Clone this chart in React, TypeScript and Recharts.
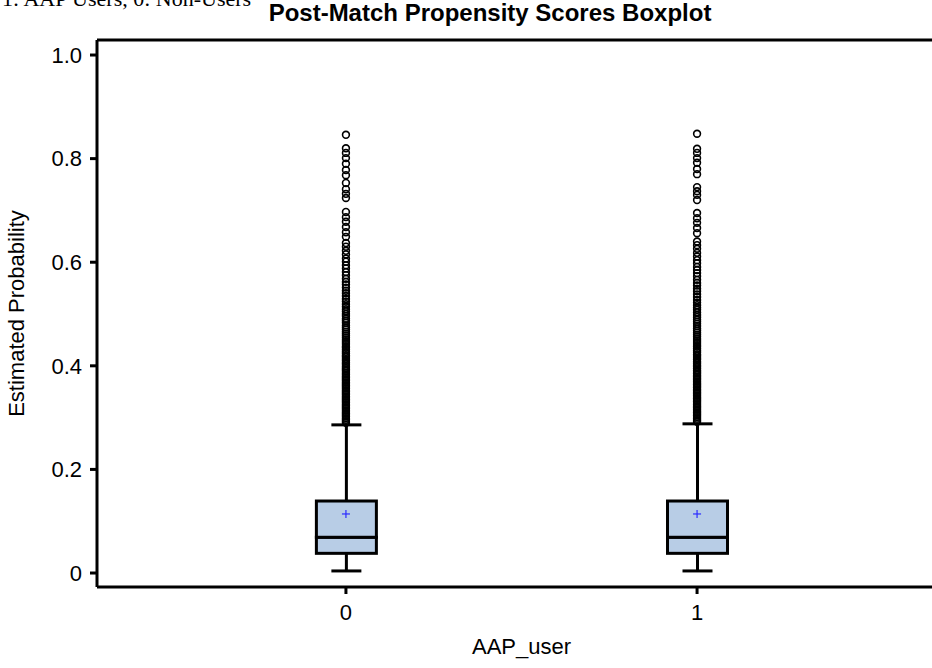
import { ComposedChart, Bar, Scatter, XAxis, YAxis, ReferenceLine } from 'recharts';

// 0 = non-users, 1 = AAP users
const groups = [0, 1];
const whiskerLow = [0.004, 0.004];
const q1 = [0.038, 0.038];
const median = [0.069, 0.069];
const q3 = [0.139, 0.139];
const whiskerHigh = [0.286, 0.288];
const means = [0.114, 0.114];

const outliers0 = [
  0.846, 0.820, 0.811, 0.801, 0.790, 0.778, 0.768, 0.753, 0.741, 0.732, 0.724,
  0.697, 0.687, 0.678, 0.668, 0.658, 0.649, 0.637, 0.630, 0.622, 0.615, 0.607,
  0.601, 0.594, 0.588, 0.581, 0.575, 0.568, 0.562, 0.557, 0.551, 0.545, 0.540,
  0.535, 0.529, 0.524, 0.519, 0.514, 0.509, 0.505, 0.500, 0.496, 0.491, 0.487,
  0.483, 0.478, 0.474, 0.470, 0.466, 0.462, 0.458, 0.454, 0.450, 0.446, 0.442,
  0.438, 0.435, 0.431, 0.427, 0.424, 0.420, 0.417, 0.413, 0.410, 0.406, 0.403,
  0.399, 0.396, 0.393, 0.390, 0.386, 0.383, 0.380, 0.377, 0.374, 0.371, 0.368,
  0.365, 0.362, 0.359, 0.356, 0.353, 0.350, 0.347, 0.344, 0.341, 0.338, 0.335,
  0.332, 0.329, 0.326, 0.323, 0.320, 0.317, 0.314, 0.311, 0.308, 0.305, 0.302,
  0.299, 0.296, 0.293, 0.290,
];
const outliers1 = [
  0.848, 0.819, 0.811, 0.801, 0.792, 0.780, 0.770, 0.745, 0.737, 0.730, 0.720,
  0.695, 0.685, 0.676, 0.666, 0.656, 0.640, 0.633, 0.626, 0.618, 0.611, 0.604,
  0.598, 0.591, 0.585, 0.579, 0.573, 0.566, 0.560, 0.555, 0.549, 0.544, 0.538,
  0.533, 0.527, 0.522, 0.517, 0.512, 0.508, 0.503, 0.498, 0.494, 0.489, 0.485,
  0.481, 0.477, 0.472, 0.468, 0.464, 0.460, 0.456, 0.452, 0.448, 0.444, 0.440,
  0.437, 0.433, 0.429, 0.426, 0.422, 0.419, 0.415, 0.412, 0.408, 0.405, 0.401,
  0.398, 0.395, 0.391, 0.388, 0.385, 0.382, 0.379, 0.376, 0.373, 0.370, 0.367,
  0.364, 0.361, 0.358, 0.355, 0.352, 0.349, 0.346, 0.343, 0.340, 0.337, 0.334,
  0.331, 0.328, 0.325, 0.322, 0.319, 0.316, 0.313, 0.310, 0.307, 0.304, 0.301,
  0.298, 0.295, 0.292,
];

const yTicks = [0, 0.2, 0.4, 0.6, 0.8, 1.0];
const xTicks = [0, 1];

const Y_DOMAIN: [number, number] = [-0.027, 1.029];
const X_DOMAIN: [number, number] = [-0.709, 1.709];
const FONT = '"Liberation Sans", Arial, sans-serif';

const boxData = groups.map((g, i) => ({
  x: g,
  base: whiskerLow[i],
  lowW: q1[i] - whiskerLow[i],
  boxLo: median[i] - q1[i],
  boxHi: q3[i] - median[i],
  highW: whiskerHigh[i] - q3[i],
}));

const meanData = groups.map((g, i) => ({ x: g, y: means[i] }));
const outlierData = [
  ...outliers0.map((v) => ({ x: groups[0], y: v })),
  ...outliers1.map((v) => ({ x: groups[1], y: v })),
];

const LowWhisker = (p: any) => {
  const cx = p.x + p.width / 2;
  const yb = p.y + p.height;
  return (
    <g>
      <line x1={cx} x2={cx} y1={p.y} y2={yb} stroke="#000" strokeWidth={3} />
      <line x1={cx - 15} x2={cx + 15} y1={yb} y2={yb} stroke="#000" strokeWidth={3} />
    </g>
  );
};

const HighWhisker = (p: any) => {
  const cx = p.x + p.width / 2;
  return (
    <g>
      <line x1={cx} x2={cx} y1={p.y} y2={p.y + p.height} stroke="#000" strokeWidth={3} />
      <line x1={cx - 15} x2={cx + 15} y1={p.y} y2={p.y} stroke="#000" strokeWidth={3} />
    </g>
  );
};

const BoxPart = (p: any) => (
  <rect x={p.x} y={p.y} width={p.width} height={p.height} fill="#b8cde6" stroke="#000" strokeWidth={3} />
);

const MeanMark = (p: any) => (
  <g stroke="#2b2bff" strokeWidth={1.2}>
    <line x1={p.cx - 4} x2={p.cx + 4} y1={p.cy} y2={p.cy} />
    <line x1={p.cx} x2={p.cx} y1={p.cy - 4} y2={p.cy + 4} />
  </g>
);

const Outlier = (p: any) => (
  <circle cx={p.cx} cy={p.cy} r={3.4} fill="none" stroke="#000" strokeWidth={1.6} />
);

export default function App() {
  return (
    <div style={{ width: 932, height: 668, overflow: 'hidden', position: 'relative', background: '#fff' }}>
      <style>{'html,body{margin:0;padding:0;overflow:hidden;}'}</style>
      {/* caption line above the chart, cut off by the page top like in the source */}
      <div
        style={{
          position: 'absolute', top: -12, left: 2, whiteSpace: 'nowrap',
          fontFamily: '"Liberation Serif", serif', fontSize: 22, lineHeight: '22px',
        }}
      >
        1: AAP Users, 0: Non-Users
      </div>
      <div
        style={{
          position: 'absolute', top: 1, left: 0, width: 980, textAlign: 'center',
          fontFamily: FONT, fontWeight: 'bold', fontSize: 24, lineHeight: '24px', zIndex: 1,
        }}
      >
        Post-Match Propensity Scores Boxplot
      </div>
      <ComposedChart
        width={960}
        height={668}
        data={boxData}
        margin={{ top: 40, right: 14, bottom: 0, left: 0 }}
        style={{ fontFamily: FONT }}
      >
        <XAxis
          dataKey="x"
          type="number"
          domain={X_DOMAIN}
          allowDataOverflow
          ticks={xTicks}
          height={81}
          tickSize={7}
          tickMargin={10}
          tick={{ fill: '#000', fontSize: 22 }}
          tickLine={{ stroke: '#000', strokeWidth: 3 }}
          axisLine={{ stroke: '#000', strokeWidth: 3 }}
          label={{ value: 'AAP_user', position: 'insideBottom', offset: 14, fill: '#000', fontSize: 22 }}
        />
        <YAxis
          type="number"
          domain={Y_DOMAIN}
          allowDataOverflow
          ticks={yTicks}
          width={97}
          tickSize={7}
          tickMargin={8}
          tickFormatter={(v: number) => (v === 0 ? '0' : v.toFixed(1))}
          tick={{ fill: '#000', fontSize: 22 }}
          tickLine={{ stroke: '#000', strokeWidth: 3 }}
          axisLine={{ stroke: '#000', strokeWidth: 3 }}
          label={{
            value: 'Estimated Probability', angle: -90, position: 'insideLeft', offset: 16,
            fill: '#000', fontSize: 22, style: { textAnchor: 'middle' },
          }}
        />
        <ReferenceLine y={Y_DOMAIN[1]} stroke="#000" strokeWidth={3} ifOverflow="visible" />
        <Bar dataKey="base" stackId="box" barSize={60} fill="none" isAnimationActive={false} />
        <Bar dataKey="lowW" stackId="box" barSize={60} shape={LowWhisker} isAnimationActive={false} />
        <Bar dataKey="boxLo" stackId="box" barSize={60} shape={BoxPart} isAnimationActive={false} />
        <Bar dataKey="boxHi" stackId="box" barSize={60} shape={BoxPart} isAnimationActive={false} />
        <Bar dataKey="highW" stackId="box" barSize={60} shape={HighWhisker} isAnimationActive={false} />
        <Scatter data={outlierData} dataKey="y" shape={Outlier} isAnimationActive={false} />
        <Scatter data={meanData} dataKey="y" shape={MeanMark} isAnimationActive={false} />
      </ComposedChart>
    </div>
  );
}
